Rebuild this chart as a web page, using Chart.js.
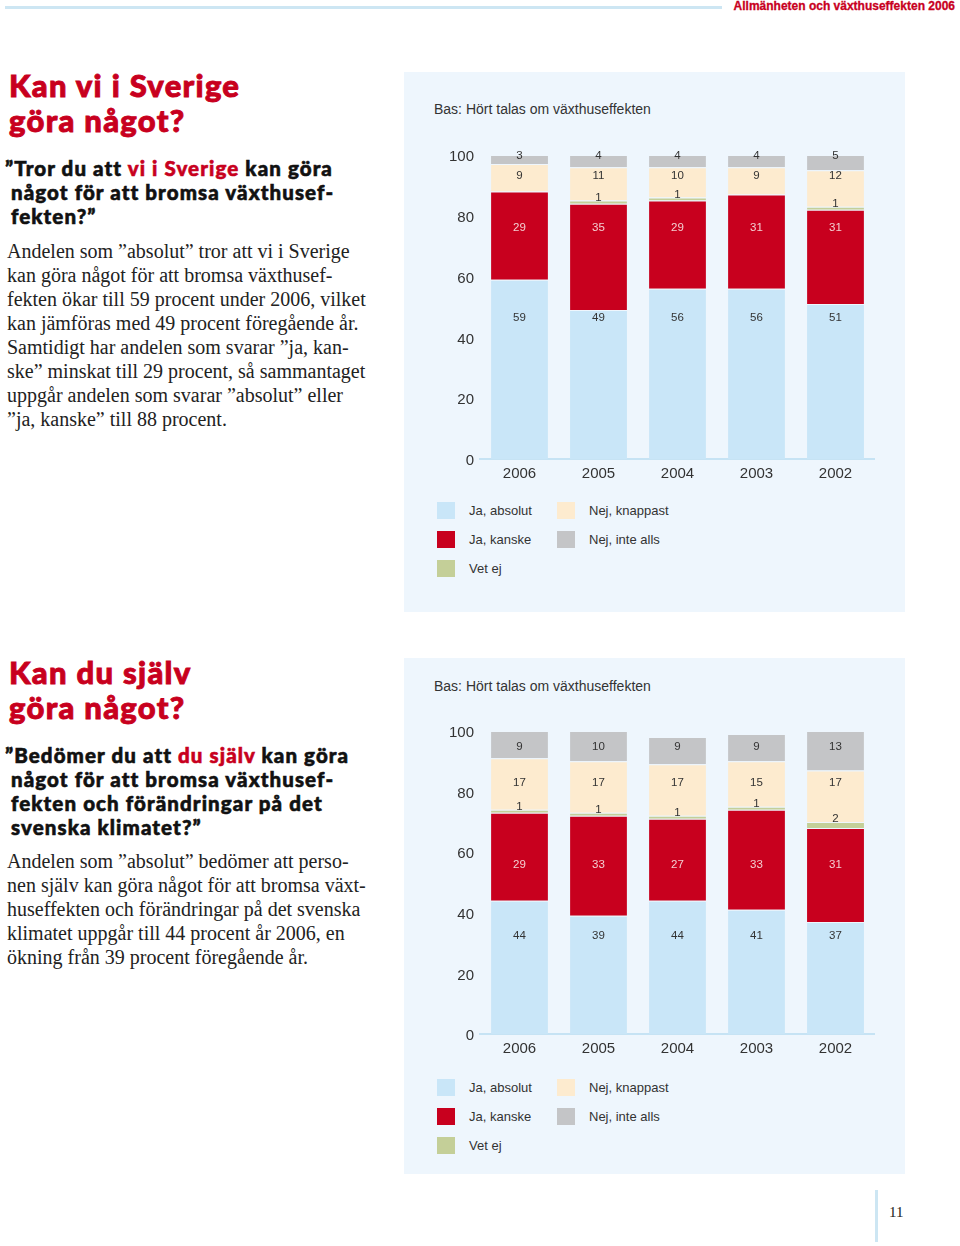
<!DOCTYPE html>
<html lang="sv">
<head>
  <meta charset="UTF-8">
  <title>Allmänheten och växthuseffekten 2006</title>
  <script src="https://cdn.jsdelivr.net/npm/chart.js"></script>
  <style>
    body {
      margin: 0;
      padding: 0;
      width: 960px;
      height: 1246px;
      position: relative;
      background: #fff;
      overflow: hidden;
    }
    .topline {
      position: absolute;
      left: 5px; top: 6px;
      width: 717px; height: 3px;
      background: #cde6f3;
    }
    .toptitle {
      position: absolute;
      right: 5px; top: -1px;
      font-family: "Liberation Sans Narrow", "Liberation Sans", sans-serif;
      font-stretch: condensed;
      font-weight: bold;
      font-size: 12px;
      color: #c8001e;
      -webkit-text-stroke: 0.3px #c8001e;
    }
    .heading {
      position: absolute;
      left: 9px;
      font-family: Lato, "DejaVu Sans", sans-serif;
      font-weight: 900;
      font-size: 31px;
      letter-spacing: 1.3px;
      line-height: 35px;
      color: #c8001e;
      -webkit-text-stroke: 0.9px #c8001e;
    }
    .question {
      position: absolute;
      left: 5px;
      font-family: Lato, "DejaVu Sans", sans-serif;
      font-weight: 900;
      font-size: 20.5px;
      letter-spacing: 1.1px;
      line-height: 24px;
      color: #111;
      -webkit-text-stroke: 0.6px #111;
    }
    .question .red { color: #c8001e; -webkit-text-stroke: 0.6px #c8001e; }
    .body {
      position: absolute;
      left: 7px;
      font-family: "Liberation Serif", serif;
      font-size: 20px;
      line-height: 24px;
      color: #222;
    }
    .panel {
      position: absolute;
      left: 404px;
      width: 501px;
      background: #eef6fd;
    }
    .bas {
      position: absolute;
      left: 30px;
      font-family: "Liberation Sans", sans-serif;
      font-size: 14px;
      color: #333;
    }
    .chartbox {
      position: absolute;
      left: 26px;
      width: 445px;
    }
    .legend {
      position: absolute;
      left: 33px;
      font-family: "Liberation Sans", sans-serif;
      font-size: 13px;
      color: #333;
    }
    .legend .item {
      position: absolute;
      white-space: nowrap;
      height: 17px;
      line-height: 17px;
    }
    .legend .sw {
      display: inline-block;
      width: 18px; height: 17px;
      vertical-align: top;
      margin-right: 14px;
    }
    .pageline {
      position: absolute;
      left: 875px; top: 1190px;
      width: 3px; height: 52px;
      background: #cde6f3;
    }
    .pagenum {
      position: absolute;
      left: 889px; top: 1204px;
      font-family: "Liberation Serif", serif;
      font-size: 15px;
      color: #222;
    }
  </style>
</head>
<body>
  <div class="topline"></div>
  <div class="toptitle">Allmänheten och växthuseffekten 2006</div>

  <div class="heading" style="top:68px">Kan vi i Sverige<br>göra något?</div>
  <div class="question" style="top:156px">”Tror du att <span class="red">vi i Sverige</span> kan göra<br>&nbsp;något för att bromsa växthusef-<br>&nbsp;fekten?”</div>
  <div class="body" style="top:239px">Andelen som ”absolut” tror att vi i Sverige<br>kan göra något för att bromsa växthusef-<br>fekten ökar till 59 procent under 2006, vilket<br>kan jämföras med 49 procent föregående år.<br>Samtidigt har andelen som svarar ”ja, kan-<br>ske” minskat till 29 procent, så sammantaget<br>uppgår andelen som svarar ”absolut” eller<br>”ja, kanske” till 88 procent.</div>

  <div class="panel" style="top:72px; height:540px">
    <div class="bas" style="top:29px">Bas: Hört talas om växthuseffekten</div>
    <div class="chartbox" style="top:68px; height:345px"><canvas id="chart1"></canvas></div>
    <div class="legend" id="legend1" style="top:430px"></div>
  </div>

  <div class="heading" style="top:655px">Kan du själv<br>göra något?</div>
  <div class="question" style="top:743px">”Bedömer du att <span class="red">du själv</span> kan göra<br>&nbsp;något för att bromsa växthusef-<br>&nbsp;fekten och förändringar på det<br>&nbsp;svenska klimatet?”</div>
  <div class="body" style="top:849px">Andelen som ”absolut” bedömer att perso-<br>nen själv kan göra något för att bromsa växt-<br>huseffekten och förändringar på det svenska<br>klimatet uppgår till 44 procent år 2006, en<br>ökning från 39 procent föregående år.</div>

  <div class="panel" style="top:658px; height:516px">
    <div class="bas" style="top:20px">Bas: Hört talas om växthuseffekten</div>
    <div class="chartbox" style="top:58px; height:344px"><canvas id="chart2"></canvas></div>
    <div class="legend" id="legend2" style="top:421px"></div>
  </div>

  <div class="pageline"></div>
  <div class="pagenum">11</div>

  <script>
    // Data
    const years = ["2006", "2005", "2004", "2003", "2002"];
    const seriesNames = ["Ja, absolut", "Ja, kanske", "Vet ej", "Nej, knappast", "Nej, inte alls"];
    const yTicks = [0, 20, 40, 60, 80, 100];

    // "Kan vi i Sverige göra något?"
    const sverigeJaAbsolut = [59, 49, 56, 56, 51];
    const sverigeJaKanske = [29, 35, 29, 31, 31];
    const sverigeVetEj = [0, 1, 1, 0, 1];
    const sverigeNejKnappast = [9, 11, 10, 9, 12];
    const sverigeNejInteAlls = [3, 4, 4, 4, 5];

    // "Kan du själv göra något?"
    const sjalvJaAbsolut = [44, 39, 44, 41, 37];
    const sjalvJaKanske = [29, 33, 27, 33, 31];
    const sjalvVetEj = [1, 1, 1, 1, 2];
    const sjalvNejKnappast = [17, 17, 17, 15, 17];
    const sjalvNejInteAlls = [9, 10, 9, 9, 13];

    // Styles
    const colors = ["#c9e6f8", "#c8001e", "#c4cf98", "#fdebcf", "#c4c5c7"];
    const labelColors = ["#333", "#f3cfd2", "#333", "#333", "#333"];
    const panelBg = "#eef6fd";

    // Labels sit on fixed heights per row (in axis units), "Vet ej" sits just above its segment
    const labelAnchors1 = [46.4, 76, null, 93, 99.7];
    const labelAnchors2 = [32.3, 55.8, null, 82.8, 94.7];

    const segmentLabels = {
      id: "segmentLabels",
      afterDatasetsDraw(chart, args, opts) {
        const ctx = chart.ctx;
        const yScale = chart.scales.y;
        ctx.save();
        ctx.font = "11.5px 'Liberation Sans', sans-serif";
        ctx.textAlign = "center";
        ctx.textBaseline = "middle";
        chart.data.datasets.forEach((ds, i) => {
          const meta = chart.getDatasetMeta(i);
          meta.data.forEach((bar, j) => {
            const v = ds.data[j];
            if (!v) return;
            const y = opts.anchors[i] != null ? yScale.getPixelForValue(opts.anchors[i]) : bar.y - 3;
            ctx.fillStyle = labelColors[i];
            ctx.fillText(String(v), bar.x, y);
          });
        });
        ctx.restore();
      }
    };

    function createChart(id, series, anchors) {
      return new Chart(document.getElementById(id), {
        type: "bar",
        data: {
          labels: years,
          datasets: series.map((data, i) => ({
            label: seriesNames[i],
            data: data,
            backgroundColor: colors[i],
            borderColor: panelBg,
            borderWidth: { top: 1, bottom: 0, left: 0, right: 0 },
            borderSkipped: false,
            categoryPercentage: 1,
            barPercentage: 0.72,
          })),
        },
        options: {
          responsive: true,
          maintainAspectRatio: false,
          animation: false,
          layout: { padding: { top: 15, right: 0, left: 0, bottom: 0 } },
          plugins: {
            legend: { display: false },
            tooltip: { enabled: false },
            segmentLabels: { anchors: anchors },
          },
          scales: {
            x: {
              stacked: true,
              grid: { display: false, drawTicks: false },
              border: { display: true, color: "#c6e3f4", width: 2 },
              ticks: { color: "#333", font: { family: "'Liberation Sans', sans-serif", size: 15 }, padding: 6 },
              afterFit(scale) { scale.height = 26; },
            },
            y: {
              stacked: true,
              min: 0,
              max: 100,
              grid: { display: false, drawTicks: false },
              border: { display: false },
              afterBuildTicks(scale) { scale.ticks = yTicks.map(v => ({ value: v })); },
              ticks: { color: "#333", font: { family: "'Liberation Sans', sans-serif", size: 15 }, padding: 6, labelOffset: 2 },
              afterFit(scale) { scale.width = 50; },
            },
          },
        },
        plugins: [segmentLabels],
      });
    }

    function createLegend(id) {
      const el = document.getElementById(id);
      // column-wise: three in the first column, two in the second
      const pos = [[0, 0], [0, 29], [0, 58], [120, 0], [120, 29]];
      seriesNames.forEach((name, i) => {
        const item = document.createElement("div");
        item.className = "item";
        item.style.left = pos[i][0] + "px";
        item.style.top = pos[i][1] + "px";
        item.innerHTML = `<span class="sw" style="background:${colors[i]}"></span>${name}`;
        el.appendChild(item);
      });
    }

    createChart("chart1", [sverigeJaAbsolut, sverigeJaKanske, sverigeVetEj, sverigeNejKnappast, sverigeNejInteAlls], labelAnchors1);
    createChart("chart2", [sjalvJaAbsolut, sjalvJaKanske, sjalvVetEj, sjalvNejKnappast, sjalvNejInteAlls], labelAnchors2);
    createLegend("legend1");
    createLegend("legend2");
  </script>
</body>
</html>
